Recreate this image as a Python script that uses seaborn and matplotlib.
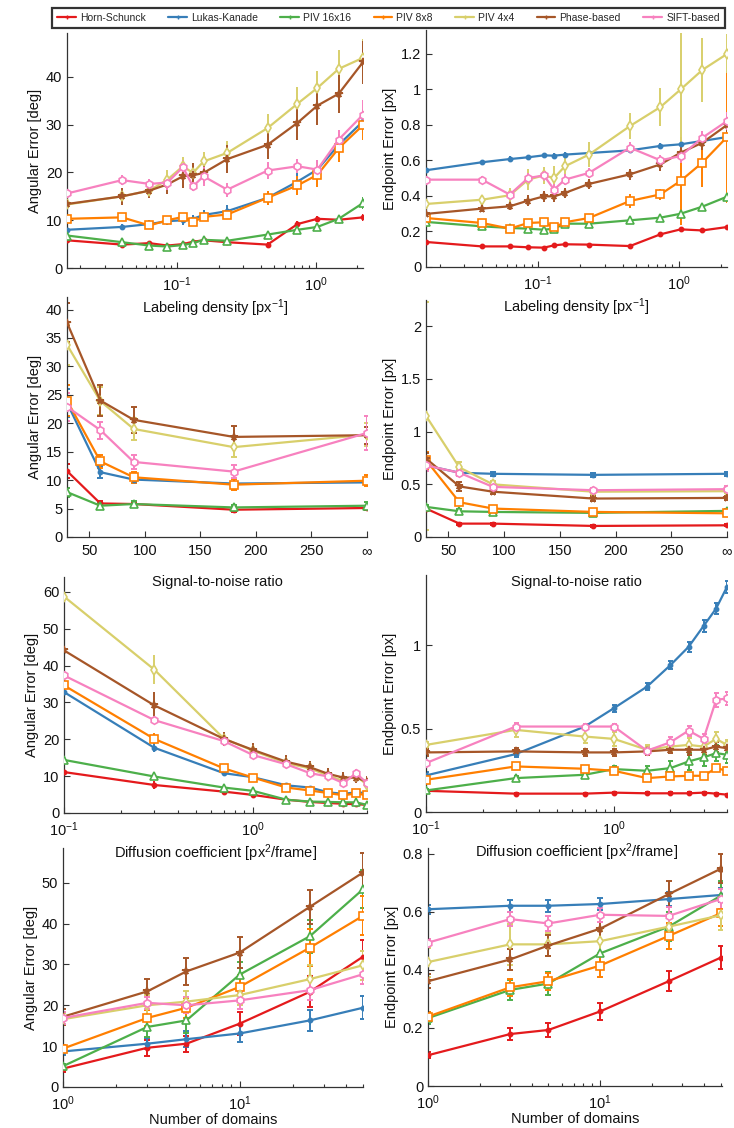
import matplotlib
matplotlib.use("Agg")
import matplotlib.pyplot as plt
import seaborn as sns
from matplotlib.lines import Line2D
from matplotlib.ticker import LogLocator, NullFormatter, FuncFormatter, FixedLocator

# ---------------- data ----------------
methods = ["Horn-Schunck", "Lukas-Kanade", "PIV 16x16", "PIV 8x8", "PIV 4x4", "Phase-based", "SIFT-based"]
colors = ["#E41A1C", "#377EB8", "#4DAF4A", "#FF7F00", "#D8CF6B", "#A65628", "#F781BF"]
markers = [".", ".", "^", "s", "d", "*", "h"]
open_marker = [False, False, True, True, True, False, True]

density = [0.016, 0.04, 0.063, 0.085, 0.11, 0.13, 0.155, 0.23, 0.45, 0.74, 1.03, 1.47, 2.2]
snr = [30, 60, 90, 180, 300]
snr_labels = ["50", "100", "150", "200", "250", "\u221e"]
diffusion = [0.1, 0.3, 0.7, 1.0, 1.5, 2.0, 2.5, 3.0, 3.5, 4.0]
domains = [1, 3, 5, 10, 25, 50]

ae_density = {
    "Horn-Schunck": [5.8, 4.9, 5.2, 4.7, 5.0, 5.5, 5.8, 5.4, 4.9, 9.2, 10.3, 10.1, 10.6],
    "Lukas-Kanade": [8.0, 8.6, 9.2, 9.8, 10.0, 10.3, 11.1, 11.9, 14.7, 18.1, 20.6, 25.8, 30.7],
    "PIV 16x16": [6.8, 5.4, 4.7, 4.5, 4.8, 5.2, 5.9, 5.7, 7.0, 8.0, 8.6, 10.3, 13.6],
    "PIV 8x8": [10.3, 10.6, 8.9, 10.0, 10.7, 9.6, 10.7, 11.2, 14.7, 17.3, 19.5, 25.1, 29.9],
    "PIV 4x4": [13.3, 15.0, 16.2, 18.5, 21.3, 19.9, 22.3, 24.1, 29.3, 34.4, 37.7, 41.7, 44.0],
    "Phase-based": [13.4, 15.0, 16.2, 17.5, 19.2, 19.4, 19.9, 22.8, 25.8, 30.4, 34.0, 36.5, 43.1],
    "SIFT-based": [15.6, 18.4, 17.6, 17.9, 21.1, 17.1, 19.2, 16.4, 20.4, 21.3, 20.6, 26.9, 32.1],
}
ae_density_err = {
    "Horn-Schunck": [0.5, 0.5, 0.5, 0.5, 0.5, 0.5, 0.5, 0.5, 0.5, 0.6, 0.6, 0.6, 0.7],
    "Lukas-Kanade": [0.7, 0.7, 0.8, 0.8, 0.9, 0.9, 1.0, 1.2, 1.5, 1.8, 2.0, 2.2, 2.5],
    "PIV 16x16": [0.5, 0.5, 0.5, 0.5, 0.5, 0.5, 0.5, 0.5, 0.6, 0.7, 0.8, 0.9, 1.2],
    "PIV 8x8": [0.8, 0.8, 0.8, 0.8, 0.8, 0.8, 0.8, 1.0, 1.5, 2.0, 2.5, 3.0, 3.0],
    "PIV 4x4": [1.0, 1.0, 1.0, 2.0, 2.0, 2.0, 2.0, 2.5, 3.0, 3.5, 3.5, 4.0, 4.0],
    "Phase-based": [1.5, 1.8, 1.5, 2.0, 2.5, 2.5, 2.0, 3.0, 3.0, 3.5, 4.0, 4.0, 4.5],
    "SIFT-based": [1.2, 1.0, 1.0, 1.5, 1.5, 1.0, 2.0, 1.5, 1.8, 1.5, 2.0, 2.0, 3.0],
}
ee_density = {
    "Horn-Schunck": [0.141, 0.116, 0.116, 0.111, 0.109, 0.122, 0.128, 0.126, 0.118, 0.184, 0.212, 0.206, 0.225],
    "Lukas-Kanade": [0.545, 0.590, 0.608, 0.618, 0.629, 0.627, 0.633, 0.642, 0.657, 0.682, 0.691, 0.710, 0.732],
    "PIV 16x16": [0.254, 0.229, 0.220, 0.216, 0.210, 0.216, 0.244, 0.244, 0.263, 0.278, 0.300, 0.340, 0.396],
    "PIV 8x8": [0.276, 0.248, 0.216, 0.248, 0.252, 0.223, 0.252, 0.276, 0.372, 0.409, 0.485, 0.588, 0.732],
    "PIV 4x4": [0.355, 0.379, 0.404, 0.492, 0.516, 0.501, 0.567, 0.633, 0.794, 0.901, 1.000, 1.110, 1.200],
    "Phase-based": [0.299, 0.329, 0.342, 0.374, 0.398, 0.398, 0.417, 0.468, 0.522, 0.578, 0.644, 0.700, 0.800],
    "SIFT-based": [0.492, 0.492, 0.408, 0.501, 0.516, 0.436, 0.492, 0.530, 0.672, 0.601, 0.625, 0.728, 0.822],
}
ee_density_err = {
    "Horn-Schunck": [0.008, 0.008, 0.008, 0.008, 0.008, 0.008, 0.008, 0.008, 0.008, 0.01, 0.012, 0.012, 0.012],
    "Lukas-Kanade": [0.012, 0.015, 0.015, 0.015, 0.015, 0.015, 0.015, 0.015, 0.015, 0.015, 0.015, 0.015, 0.015],
    "PIV 16x16": [0.015, 0.015, 0.015, 0.015, 0.02, 0.02, 0.02, 0.02, 0.02, 0.02, 0.02, 0.02, 0.02],
    "PIV 8x8": [0.015, 0.015, 0.015, 0.015, 0.015, 0.015, 0.015, 0.015, 0.04, 0.03, 0.25, 0.14, 0.37],
    "PIV 4x4": [0.02, 0.02, 0.04, 0.06, 0.05, 0.07, 0.06, 0.07, 0.075, 0.107, 0.32, 0.18, 0.11],
    "Phase-based": [0.02, 0.02, 0.02, 0.03, 0.03, 0.03, 0.03, 0.03, 0.03, 0.04, 0.04, 0.04, 0.04],
    "SIFT-based": [0.02, 0.02, 0.02, 0.03, 0.03, 0.03, 0.03, 0.03, 0.03, 0.03, 0.04, 0.04, 0.05],
}
ae_snr = {
    "Horn-Schunck": [11.6, 5.9, 5.8, 4.8, 5.1],
    "Lukas-Kanade": [23.6, 11.4, 10.1, 9.4, 9.6],
    "PIV 16x16": [7.9, 5.5, 5.8, 5.2, 5.5],
    "PIV 8x8": [24.0, 13.3, 10.5, 9.2, 9.9],
    "PIV 4x4": [33.8, 23.9, 19.0, 15.8, 18.0],
    "Phase-based": [37.7, 24.0, 20.6, 17.6, 17.9],
    "SIFT-based": [22.9, 18.8, 13.2, 11.5, 18.3],
}
ae_snr_err = {
    "Horn-Schunck": [1.2, 0.4, 0.4, 0.4, 0.4],
    "Lukas-Kanade": [2.5, 1.0, 0.6, 0.3, 0.5],
    "PIV 16x16": [0.8, 0.5, 0.5, 0.4, 0.6],
    "PIV 8x8": [2.8, 1.2, 1.0, 1.0, 1.0],
    "PIV 4x4": [3.5, 2.5, 2.0, 1.8, 2.0],
    "Phase-based": [3.5, 2.8, 2.3, 2.0, 1.5],
    "SIFT-based": [2.5, 1.5, 1.2, 1.2, 3.0],
}
ee_snr = {
    "Horn-Schunck": [0.27, 0.127, 0.127, 0.105, 0.111],
    "Lukas-Kanade": [0.68, 0.61, 0.60, 0.59, 0.60],
    "PIV 16x16": [0.286, 0.244, 0.238, 0.229, 0.248],
    "PIV 8x8": [0.73, 0.33, 0.27, 0.238, 0.225],
    "PIV 4x4": [1.15, 0.66, 0.50, 0.43, 0.435],
    "Phase-based": [0.745, 0.48, 0.43, 0.365, 0.371],
    "SIFT-based": [0.68, 0.61, 0.476, 0.444, 0.454],
}
ee_snr_err = {
    "Horn-Schunck": [0.02, 0.01, 0.01, 0.01, 0.01],
    "Lukas-Kanade": [0.03, 0.02, 0.02, 0.02, 0.02],
    "PIV 16x16": [0.02, 0.02, 0.02, 0.02, 0.02],
    "PIV 8x8": [0.08, 0.03, 0.02, 0.02, 0.02],
    "PIV 4x4": [1.08, 0.05, 0.03, 0.02, 0.02],
    "Phase-based": [0.05, 0.04, 0.02, 0.02, 0.02],
    "SIFT-based": [0.05, 0.03, 0.02, 0.02, 0.03],
}
ae_diff = {
    "Horn-Schunck": [11.1, 7.6, 5.8, 4.9, 3.6, 3.0, 2.7, 2.5, 2.4, 2.2],
    "Lukas-Kanade": [32.8, 17.7, 10.8, 9.7, 7.5, 6.9, 5.6, 5.2, 5.6, 5.4],
    "PIV 16x16": [14.4, 9.9, 6.9, 6.0, 3.6, 3.1, 3.0, 2.9, 2.9, 2.2],
    "PIV 8x8": [34.6, 20.1, 12.1, 9.6, 6.9, 6.1, 5.4, 4.8, 5.3, 4.8],
    "PIV 4x4": [58.7, 38.9, 20.2, 16.9, 13.5, 12.1, 10.1, 8.7, 10.0, 7.7],
    "Phase-based": [44.1, 29.2, 20.1, 17.1, 13.9, 12.4, 10.6, 9.6, 9.6, 8.5],
    "SIFT-based": [37.3, 25.2, 19.5, 15.7, 13.2, 10.8, 9.9, 8.1, 10.8, 8.1],
}
ae_diff_err = {
    "Horn-Schunck": [1.2, 1.0, 0.6, 0.5, 0.4, 0.4, 0.4, 0.4, 0.4, 0.4],
    "Lukas-Kanade": [2.0, 1.2, 0.8, 0.5, 0.5, 0.5, 0.5, 0.5, 0.5, 0.5],
    "PIV 16x16": [0.8, 0.6, 0.5, 0.5, 0.4, 0.4, 0.4, 0.4, 0.4, 0.4],
    "PIV 8x8": [1.5, 1.5, 1.0, 0.7, 0.7, 0.6, 0.6, 0.6, 0.6, 0.6],
    "PIV 4x4": [5.0, 4.0, 1.5, 1.5, 1.2, 1.2, 1.0, 1.0, 1.0, 1.0],
    "Phase-based": [4.5, 3.5, 2.0, 2.0, 1.8, 1.8, 1.5, 1.5, 1.5, 1.5],
    "SIFT-based": [1.0, 1.0, 1.0, 1.0, 1.0, 1.0, 1.0, 1.0, 1.0, 1.0],
}
ee_diff = {
    "Horn-Schunck": [0.127, 0.110, 0.110, 0.116, 0.112, 0.112, 0.112, 0.116, 0.110, 0.104],
    "Lukas-Kanade": [0.219, 0.347, 0.512, 0.622, 0.751, 0.880, 0.990, 1.114, 1.219, 1.349],
    "PIV 16x16": [0.129, 0.203, 0.223, 0.257, 0.247, 0.263, 0.303, 0.327, 0.353, 0.343],
    "PIV 8x8": [0.193, 0.273, 0.259, 0.247, 0.203, 0.213, 0.217, 0.217, 0.263, 0.247],
    "PIV 4x4": [0.402, 0.492, 0.452, 0.438, 0.373, 0.392, 0.402, 0.392, 0.438, 0.402],
    "Phase-based": [0.357, 0.363, 0.357, 0.357, 0.363, 0.373, 0.373, 0.373, 0.392, 0.382],
    "SIFT-based": [0.293, 0.512, 0.512, 0.512, 0.367, 0.418, 0.488, 0.438, 0.671, 0.681],
}
ee_diff_err = {
    "Horn-Schunck": [0.006, 0.005, 0.005, 0.005, 0.005, 0.005, 0.005, 0.005, 0.005, 0.005],
    "Lukas-Kanade": [0.02, 0.015, 0.015, 0.02, 0.02, 0.025, 0.03, 0.035, 0.035, 0.035],
    "PIV 16x16": [0.01, 0.01, 0.02, 0.02, 0.03, 0.04, 0.05, 0.05, 0.05, 0.05],
    "PIV 8x8": [0.015, 0.01, 0.01, 0.01, 0.01, 0.01, 0.01, 0.01, 0.01, 0.01],
    "PIV 4x4": [0.02, 0.04, 0.04, 0.04, 0.03, 0.03, 0.04, 0.04, 0.04, 0.03],
    "Phase-based": [0.02, 0.02, 0.02, 0.02, 0.02, 0.02, 0.03, 0.03, 0.03, 0.03],
    "SIFT-based": [0.01, 0.02, 0.015, 0.015, 0.02, 0.03, 0.03, 0.03, 0.04, 0.04],
}
ae_dom = {
    "Horn-Schunck": [4.5, 9.6, 10.6, 15.5, 23.3, 31.9],
    "Lukas-Kanade": [8.7, 10.6, 11.7, 13.1, 16.3, 19.4],
    "PIV 16x16": [5.1, 14.7, 16.3, 27.5, 36.9, 48.4],
    "PIV 8x8": [9.4, 16.9, 19.4, 24.5, 34.1, 41.9],
    "PIV 4x4": [16.6, 20.0, 20.9, 22.5, 26.4, 29.8],
    "Phase-based": [17.2, 23.4, 28.3, 32.9, 44.1, 52.5],
    "SIFT-based": [16.9, 20.6, 20.0, 21.2, 23.7, 27.6],
}
ae_dom_err = {
    "Horn-Schunck": [0.8, 2.0, 2.0, 2.8, 3.8, 4.0],
    "Lukas-Kanade": [0.8, 1.3, 2.0, 2.0, 2.5, 2.8],
    "PIV 16x16": [0.5, 2.5, 3.0, 3.0, 4.0, 4.7],
    "PIV 8x8": [0.8, 2.0, 2.5, 3.0, 4.5, 4.8],
    "PIV 4x4": [1.5, 2.5, 2.5, 2.5, 3.5, 3.5],
    "Phase-based": [2.0, 3.0, 3.3, 3.8, 4.2, 4.8],
    "SIFT-based": [1.5, 1.5, 2.0, 2.0, 2.5, 2.5],
}
ee_dom = {
    "Horn-Schunck": [0.106, 0.179, 0.193, 0.257, 0.361, 0.442],
    "Lukas-Kanade": [0.609, 0.621, 0.621, 0.627, 0.644, 0.658],
    "PIV 16x16": [0.234, 0.331, 0.353, 0.457, 0.549, 0.655],
    "PIV 8x8": [0.239, 0.340, 0.361, 0.415, 0.517, 0.595],
    "PIV 4x4": [0.427, 0.488, 0.488, 0.499, 0.549, 0.588],
    "Phase-based": [0.361, 0.436, 0.484, 0.542, 0.661, 0.748],
    "SIFT-based": [0.494, 0.575, 0.560, 0.590, 0.586, 0.644],
}
ee_dom_err = {
    "Horn-Schunck": [0.01, 0.02, 0.025, 0.03, 0.035, 0.04],
    "Lukas-Kanade": [0.015, 0.02, 0.02, 0.02, 0.025, 0.025],
    "PIV 16x16": [0.02, 0.035, 0.04, 0.04, 0.05, 0.05],
    "PIV 8x8": [0.015, 0.03, 0.03, 0.04, 0.045, 0.045],
    "PIV 4x4": [0.05, 0.07, 0.04, 0.04, 0.04, 0.05],
    "Phase-based": [0.025, 0.035, 0.035, 0.04, 0.045, 0.05],
    "SIFT-based": [0.012, 0.025, 0.025, 0.025, 0.03, 0.035],
}

# ---------------- style ----------------
sns.set_theme(style="white")
plt.rcParams["font.family"] = ["Liberation Sans", "DejaVu Sans"]
plt.rcParams["mathtext.fontset"] = "custom"
plt.rcParams["mathtext.rm"] = "Liberation Sans"
plt.rcParams["mathtext.it"] = "Liberation Sans:italic"
plt.rcParams["mathtext.bf"] = "Liberation Sans:bold"
AX_COLOR = "#333333"

fig = plt.figure(figsize=(7.34, 11.28), dpi=100)

W, H = 734.0, 1128.0
def add_axes(l, r, t, b):
    ax = fig.add_axes([l / W, (H - b) / H, (r - l) / W, (b - t) / H])
    ax.patch.set_alpha(0)
    return ax

axes = [
    add_axes(67, 363, 33, 268), add_axes(426, 727, 30, 267),
    add_axes(67, 367, 297, 537), add_axes(426, 727, 300, 537),
    add_axes(64, 367, 577, 813), add_axes(426, 727, 575, 812),
    add_axes(63, 363, 848, 1087), add_axes(428, 722, 848, 1086),
]

def plain(v, pos):
    return "%g" % v

def draw(ax, x, means, errs, capsize):
    for m, c, mk, op in zip(methods, colors, markers, open_marker):
        ax.errorbar(x, means[m], yerr=errs[m], fmt="none", ecolor=c,
                    elinewidth=1.4, capsize=capsize, capthick=1.4, zorder=2)
        ms = 6 if mk == "." else 5.5
        sns.lineplot(x=x, y=means[m], ax=ax, color=c, marker=mk, markersize=ms,
                     markerfacecolor="white" if op else c, markeredgecolor=c,
                     markeredgewidth=1.2, linewidth=1.6, sort=False,
                     estimator=None, legend=False, zorder=3)

def style(ax, ylim, yticks, xlabel, ylabel):
    ax.set_ylim(*ylim)
    ax.set_yticks(yticks)
    ax.yaxis.set_major_formatter(FuncFormatter(plain))
    ax.set_xlabel(xlabel, fontsize=10.5, color="#111111", labelpad=3)
    ax.set_ylabel(ylabel, fontsize=10.5, color="#111111", labelpad=3)
    for s in ["top", "right"]:
        ax.spines[s].set_visible(False)
    for s in ["left", "bottom"]:
        ax.spines[s].set_color(AX_COLOR)
        ax.spines[s].set_linewidth(0.9)
    ax.tick_params(which="both", direction="in", colors=AX_COLOR, labelcolor="#111111",
                   labelsize=10.5, width=0.8)
    ax.tick_params(which="major", length=4)
    ax.tick_params(which="minor", length=2.5)
    ax.tick_params(axis="y", which="both", left=True)
    ax.tick_params(axis="x", which="both", bottom=True, pad=5)

def logx(ax, lo, hi):
    ax.set_xscale("log")
    ax.set_xlim(lo, hi)
    ax.xaxis.set_major_locator(LogLocator(base=10))
    ax.xaxis.set_minor_locator(LogLocator(base=10, subs=range(2, 10)))
    ax.xaxis.set_minor_formatter(NullFormatter())

AE = "Angular Error [deg]"
EE = "Endpoint Error [px]"

# row 1
draw(axes[0], density, ae_density, ae_density_err, 0)
logx(axes[0], density[0], density[-1])
style(axes[0], (0, 49.2), [0, 10, 20, 30, 40], "Labeling density [px$^{-1}$]", AE)
draw(axes[1], density, ee_density, ee_density_err, 0)
logx(axes[1], density[0], density[-1])
style(axes[1], (0, 1.335), [0, 0.2, 0.4, 0.6, 0.8, 1.0, 1.2], "Labeling density [px$^{-1}$]", EE)

# row 2
for ax, d, e, yl, yt, lab in [
    (axes[2], ae_snr, ae_snr_err, (0, 42.2), list(range(0, 45, 5)), AE),
    (axes[3], ee_snr, ee_snr_err, (0, 2.25), [0, 0.5, 1, 1.5, 2], EE),
]:
    draw(ax, snr, d, e, 2.2)
    ax.set_xlim(snr[0], snr[-1])
    ax.xaxis.set_major_locator(FixedLocator([50, 100, 150, 200, 250, 300]))
    ax.set_xticklabels(snr_labels)
    style(ax, yl, yt, "Signal-to-noise ratio", lab)
    ax.xaxis.labelpad = 12

# row 3
draw(axes[4], diffusion, ae_diff, ae_diff_err, 0)
logx(axes[4], diffusion[0], diffusion[-1])
style(axes[4], (0, 64), [0, 10, 20, 30, 40, 50, 60], "Diffusion coefficient [px$^2$/frame]", AE)
draw(axes[5], diffusion, ee_diff, ee_diff_err, 1.8)
logx(axes[5], diffusion[0], diffusion[-1])
style(axes[5], (0, 1.42), [0, 0.5, 1], "Diffusion coefficient [px$^2$/frame]", EE)

# row 4
draw(axes[6], domains, ae_dom, ae_dom_err, 2.5)
logx(axes[6], domains[0], domains[-1])
style(axes[6], (0, 58.5), [0, 10, 20, 30, 40, 50], "Number of domains", AE)
draw(axes[7], domains, ee_dom, ee_dom_err, 2.5)
logx(axes[7], domains[0], 51)
style(axes[7], (0, 0.82), [0, 0.2, 0.4, 0.6, 0.8], "Number of domains", EE)
for ax in axes[6:]:
    ax.xaxis.labelpad = 0

# legend
handles = [Line2D([0], [0], color=c, lw=1.6, marker="+", markersize=3, markeredgewidth=1)
           for c in colors]
leg = fig.legend(handles, methods, loc="lower left", mode="expand", ncol=7,
                 bbox_to_anchor=(52 / W, (H - 28) / H, 673 / W, 23 / H),
                 fontsize=7.5, frameon=True, fancybox=False, edgecolor="black",
                 handlelength=1.8, handletextpad=0.4, borderaxespad=0, borderpad=0.5)
leg.get_frame().set_linewidth(1.6)

fig.savefig("out.png", dpi=100)
